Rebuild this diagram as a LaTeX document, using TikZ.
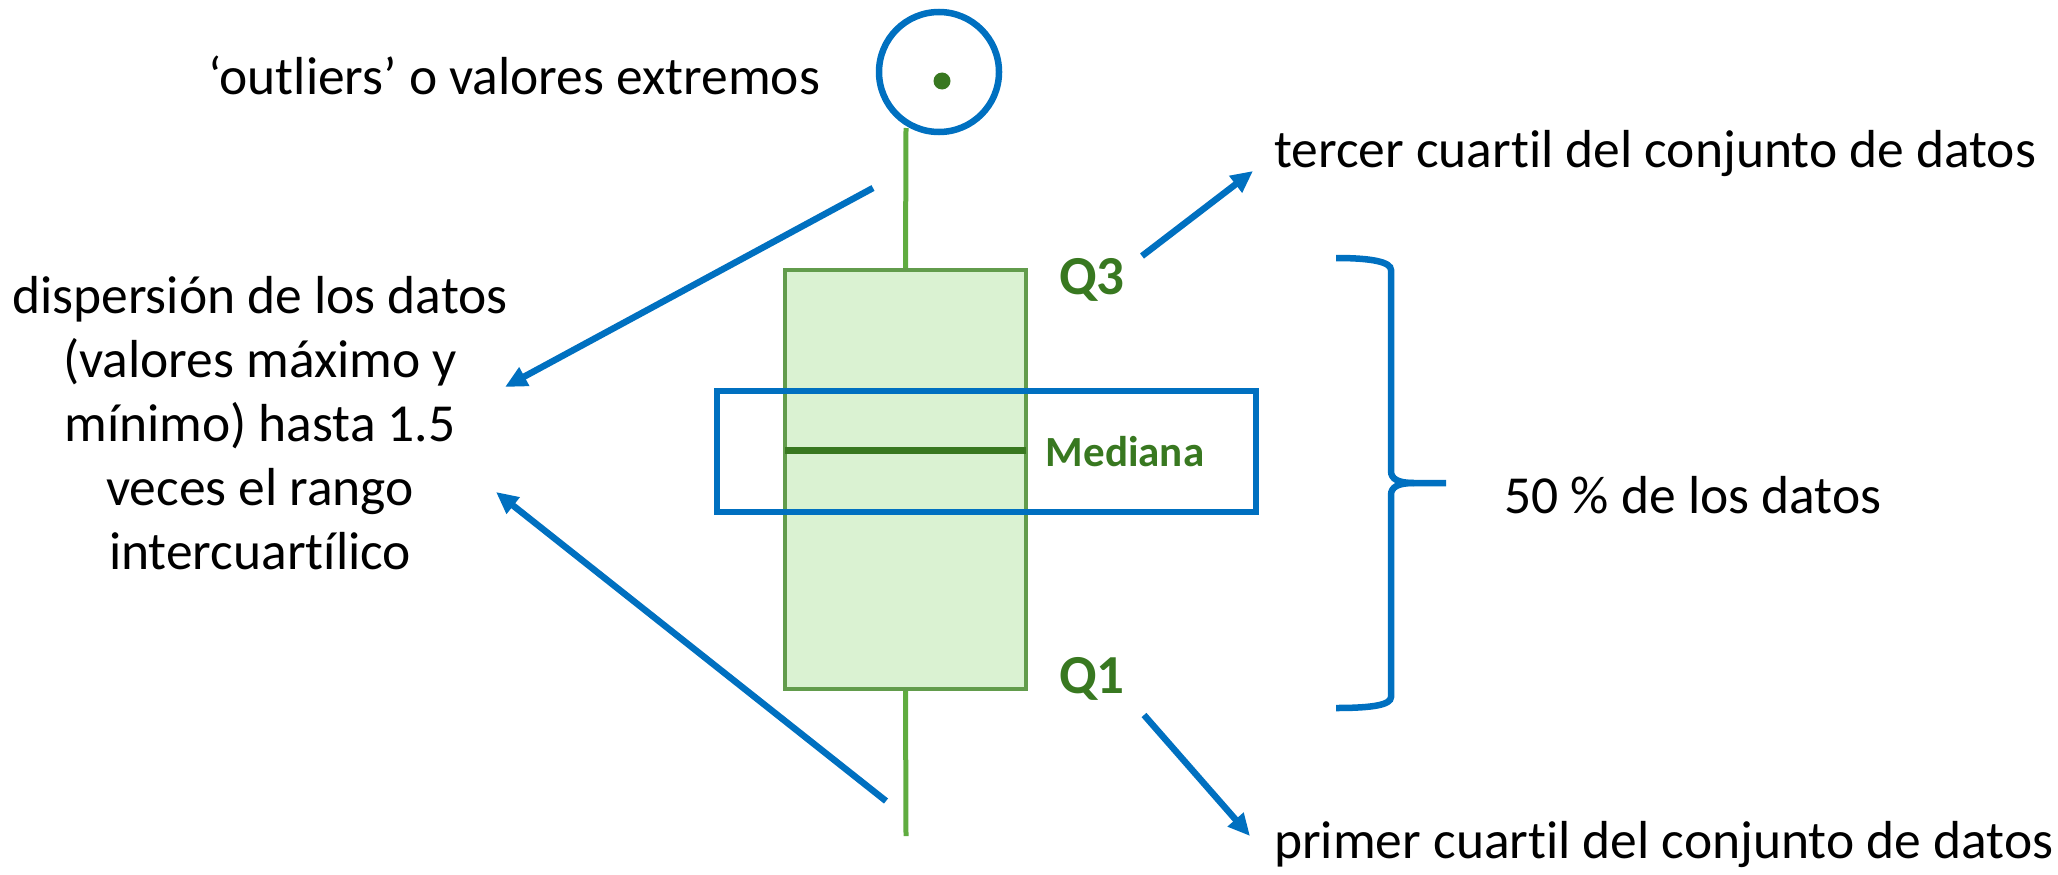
\documentclass[tikz,border=0pt]{standalone}
\usepackage{fontspec}
\setmainfont{Carlito}[RawFeature=-liga]
\usetikzlibrary{arrows.meta}
\definecolor{azul}{RGB}{0,112,192}
\definecolor{boxfill}{RGB}{218,242,210}
\definecolor{boxedge}{RGB}{98,156,76}
\definecolor{whisk}{RGB}{96,172,64}
\definecolor{dgreen}{RGB}{56,120,32}
\tikzset{
  lbl/.style={font=\fontsize{53.5}{64}\selectfont, text=black, inner sep=0pt},
  qlbl/.style={font=\fontsize{55}{60}\selectfont\bfseries, text=dgreen, inner sep=0pt},
  bluearrow/.style={draw=azul, line width=6.5pt, -{Triangle[length=22pt,width=20pt]}},
  whiskerline/.style={draw=whisk, line width=5pt},
}
\begin{document}
\begin{tikzpicture}[x=1pt,y=-1pt]
\useasboundingbox (0,0) rectangle (2058,875);
% box
\node[draw=boxedge, fill=boxfill, line width=4pt, minimum width=241pt, minimum height=419pt, inner sep=0pt] (box) at (905.5,479.5) {};
\coordinate (wtop) at (906,128);
\coordinate (wbot) at (906,836);
\draw[whiskerline] (box.north) -- (wtop);
\draw[whiskerline] (box.south) -- (wbot);
\coordinate (medl) at (785,450);
\coordinate (medr) at (1026,450);
\draw[draw=dgreen, line width=7pt] (medl) -- (medr);
% outlier
\node[circle, draw=azul, line width=6.5pt, minimum size=120pt, inner sep=0pt] (outc) at (939,72) {};
\node[circle, fill=dgreen, minimum size=17pt, inner sep=0pt] (dot) at (942,81) {};
% median frame
\node[draw=azul, line width=6.5pt, minimum width=539pt, minimum height=121pt, inner sep=0pt] (medbox) at (986.5,451.5) {};
\node[qlbl, font=\fontsize{43}{50}\selectfont\bfseries] (med) at (1125,452) {Mediana};
\node[qlbl] (q3) at (1092,280) {Q3};
\node[qlbl] (q1) at (1092,679) {Q1};
% texts
\node[lbl] (outl) at (514,75) {‘outliers’ o valores extremos};
\node[lbl, anchor=west] (terc) at (1274,154) {tercer cuartil del conjunto de datos};
\node[lbl, anchor=west] (prim) at (1274,845) {primer cuartil del conjunto de datos};
\node[lbl] (cin) at (1693,495) {50 \% de los datos};
\node[lbl, align=center] (disp) at (260,423) {dispersión de los datos\\(valores máximo y\\mínimo) hasta 1.5\\veces el rango\\intercuartílico};
% arrows
\coordinate (a1s) at (1142,256); \coordinate (a1e) at (1253,171);
\coordinate (a2s) at (1144,715); \coordinate (a2e) at (1250,836);
\coordinate (a3s) at (873,188);  \coordinate (a3e) at (505,387);
\coordinate (a4s) at (886,801);  \coordinate (a4e) at (496,492);
\draw[bluearrow] (a1s) -- (a1e);
\draw[bluearrow] (a2s) -- (a2e);
\draw[bluearrow] (a3s) -- (a3e);
\draw[bluearrow] (a4s) -- (a4e);
% brace
\draw[draw=azul, line width=6.5pt]
  (1336,258) .. controls (1372,258) and (1391,262) .. (1391,270) -- (1391,471)
  .. controls (1391,479) and (1398,483) .. (1414,483) -- (1446,483);
\draw[draw=azul, line width=6.5pt]
  (1414,483) .. controls (1398,483) and (1391,487) .. (1391,495) -- (1391,697)
  .. controls (1391,705) and (1372,708) .. (1336,708);
\end{tikzpicture}
\end{document}
